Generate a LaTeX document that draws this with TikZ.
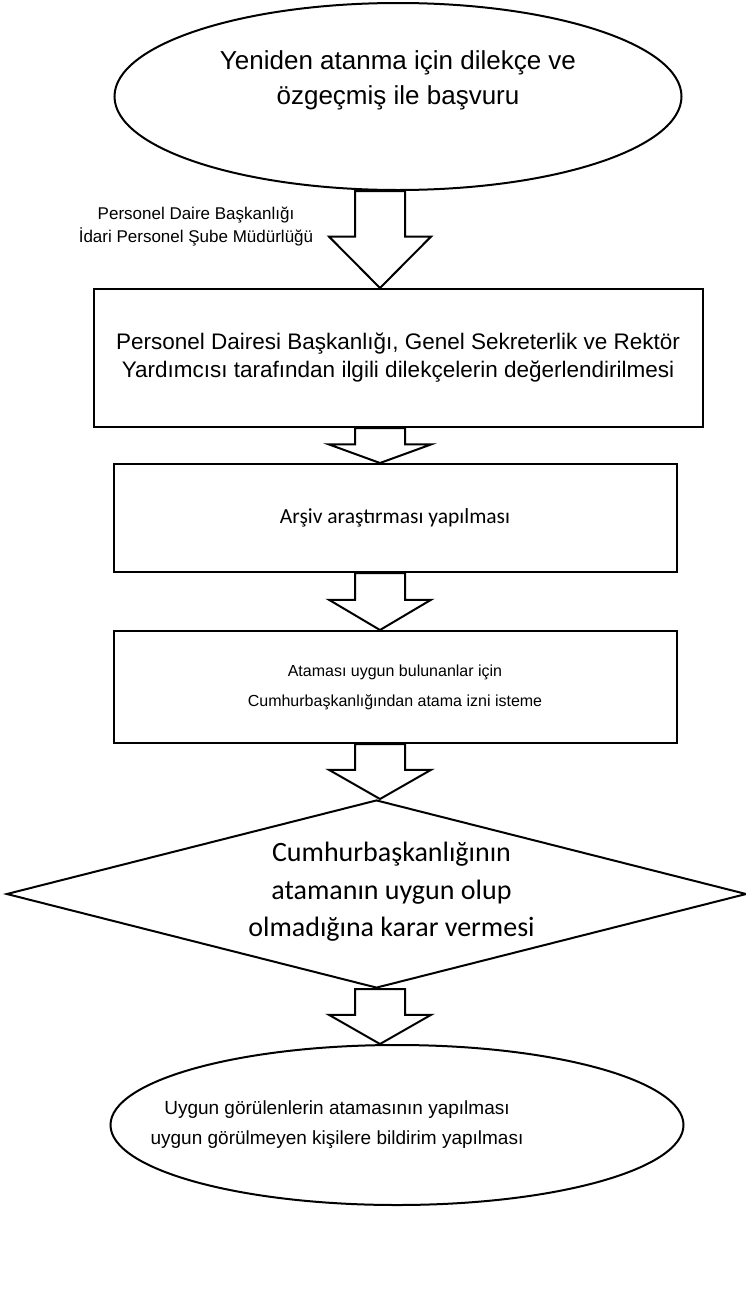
\documentclass[tikz,border=0pt]{standalone}
\usepackage{fontspec}
\setmainfont{Liberation Sans}
\newfontfamily\calibrifont{Carlito}
\usetikzlibrary{shapes.geometric,positioning,calc}

% block arrow from the bottom of #1 to the top of #2
\newcommand{\blockarrow}[2]{%
  \coordinate (ba-s) at (axis |- #1.south);
  \coordinate (ba-t) at (axis |- #2.north);
  \coordinate (ba-m) at ($(ba-s)!0.47!(ba-t)$);
  \draw[barrow] ($(ba-s)+(-25,0)$) -- ($(ba-m)+(-25,0)$) -- ($(ba-m)+(-51,0)$)
    -- (ba-t) -- ($(ba-m)+(51,0)$) -- ($(ba-m)+(25,0)$) -- ($(ba-s)+(25,0)$) -- cycle;}

\begin{document}
\begin{tikzpicture}[x=1pt,y=1pt,
  term/.style={ellipse,draw,line width=2pt,inner sep=0pt,align=center},
  proc/.style={rectangle,draw,line width=2pt,inner sep=0pt,align=center},
  dec/.style={diamond,draw,line width=2pt,inner sep=0pt,align=center,aspect=3.5},
  txt/.style={inner sep=0pt,align=center},
  barrow/.style={draw,fill=white,line width=2pt,line join=miter},
]
\useasboundingbox[fill=white] (0,0) rectangle (745,-1293);
\coordinate (axis) at (380,0);

\node[term,minimum width=567pt,minimum height=187pt] (start) at (398,-96.5) {};
\node[proc,minimum width=609pt,minimum height=138pt,
      font=\fontsize{22.5}{28}\selectfont,below=97pt of start] (eval)
      {Personel Dairesi Başkanlığı, Genel Sekreterlik ve Rektör\\Yardımcısı tarafından ilgili dilekçelerin değerlendirilmesi};
\node[proc,minimum width=563pt,minimum height=108pt,
      font=\calibrifont\fontsize{21.5}{26}\selectfont,below=35pt of eval,xshift=-3pt] (arch)
      {Arşiv araştırması yapılması};
\node[proc,minimum width=563pt,minimum height=112pt,
      font=\fontsize{16}{30}\selectfont,below=57pt of arch] (perm)
      {Ataması uygun bulunanlar için\\Cumhurbaşkanlığından atama izni isteme};
\node[dec,minimum width=740pt,minimum height=188pt,below=55pt of perm,xshift=-18.5pt] (decide) {};
\node[term,minimum width=573pt,minimum height=160pt,below=55pt of decide,xshift=20.5pt] (finish) {};

% texts inside the shapes
\node[txt,font=\fontsize{26}{35}\selectfont] (starttxt) at ($(start.center)+(0,16)$)
      {Yeniden atanma için dilekçe ve\\özgeçmiş ile başvuru};
\node[txt,font=\calibrifont\fontsize{28}{37.5}\selectfont] (decidetxt) at ($(decide.center)+(15,2)$)
      {Cumhurbaşkanlığının\\atamanın uygun olup\\olmadığına karar vermesi};
\node[txt,font=\fontsize{19}{30}\selectfont] (finishtxt) at ($(finish.center)+(-60,0)$)
      {Uygun görülenlerin atamasının yapılması\\uygun görülmeyen kişilere bildirim yapılması};

\node[txt,font=\fontsize{17}{23}\selectfont] (dept) at (196,-226.5)
      {Personel Daire Başkanlığı\\İdari Personel Şube Müdürlüğü};

\blockarrow{start}{eval}
\blockarrow{eval}{arch}
\blockarrow{arch}{perm}
\blockarrow{perm}{decide}
\blockarrow{decide}{finish}
\end{tikzpicture}
\end{document}
